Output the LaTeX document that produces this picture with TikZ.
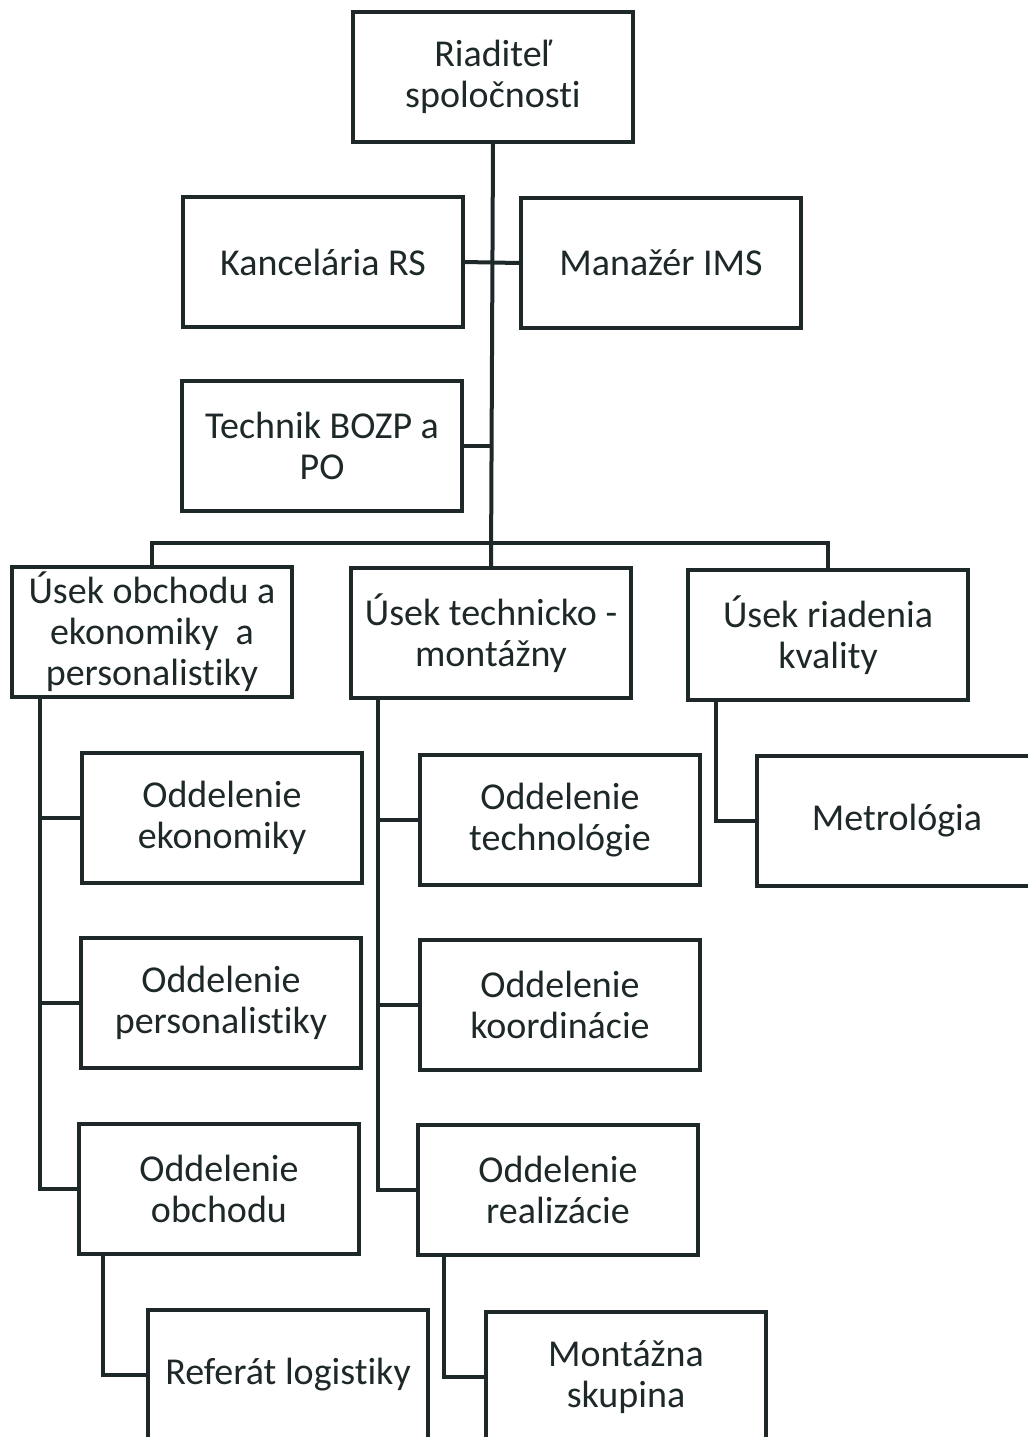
\documentclass[tikz,border=0pt]{standalone}
\usepackage{fontspec}
\setmainfont{Carlito}[Ligatures=NoCommon]
\definecolor{ink}{HTML}{1E2828}
\tikzset{unit/.style={draw=ink,text=ink,line width=1.6pt,minimum width=140pt,minimum height=65pt,inner sep=0pt,align=center,font=\fontsize{19pt}{20.5pt}\selectfont},
link/.style={draw=ink,line width=2pt}}
\begin{document}
\begin{tikzpicture}[x=0.5pt,y=-0.5pt]
\useasboundingbox (0,0) rectangle (1028,1437);
\clip (0,0) rectangle (1028,1437);
\node[unit] (dir) at (493,77) {Riaditeľ\\spoločnosti};
\node[unit] (kanc) at (323,262) {Kancelária RS};
\node[unit] (ims) at (661,263) {Manažér IMS};
\node[unit] (bozp) at (322,446) {Technik BOZP a\\PO};
\node[unit] (u1) at (152,632) {Úsek obchodu a\\ekonomiky\ \ a\\personalistiky};
\node[unit] (u2) at (491,633) {Úsek technicko -\\montážny};
\node[unit] (u3) at (828,635) {Úsek riadenia\\kvality};
\node[unit] (o1) at (222,818) {Oddelenie\\ekonomiky};
\node[unit] (o2) at (221,1003) {Oddelenie\\personalistiky};
\node[unit] (o3) at (219,1189) {Oddelenie\\obchodu};
\node[unit] (t1) at (560,820) {Oddelenie\\technológie};
\node[unit] (t2) at (560,1005) {Oddelenie\\koordinácie};
\node[unit] (t3) at (558,1190) {Oddelenie\\realizácie};
\node[unit] (met) at (897,821) {Metrológia};
\node[unit] (ref) at (288,1375) {Referát logistiky};
\node[unit] (mont) at (626,1377) {Montážna\\skupina};
\coordinate (bus) at (491,543);
\coordinate (s1) at (40,697);
\coordinate (s2) at (378,699);
\coordinate (s3) at (716,701);
\draw[link] (dir.south) -- (u2.north);
\draw[link] (kanc.east) -- (ims.west);
\draw[link] (bozp.east) -- (bozp.east -| bus);
\draw[link] (u1.north) |- (bus) -| (u3.north);
\draw[link] (s1) |- (o3.west);
\draw[link] (s2) |- (t3.west);
\draw[link] (s3) |- (met.west);
\foreach \n in {o1,o2}
\draw[link] (\n.west) -- (\n.west -| s1);
\foreach \n in {t1,t2}
\draw[link] (\n.west) -- (\n.west -| s2);
\draw[link] ([xshift=13pt]o3.south west) |- (ref.west);
\draw[link] ([xshift=14pt]t3.south west) |- (mont.west);
\end{tikzpicture}
\end{document}
